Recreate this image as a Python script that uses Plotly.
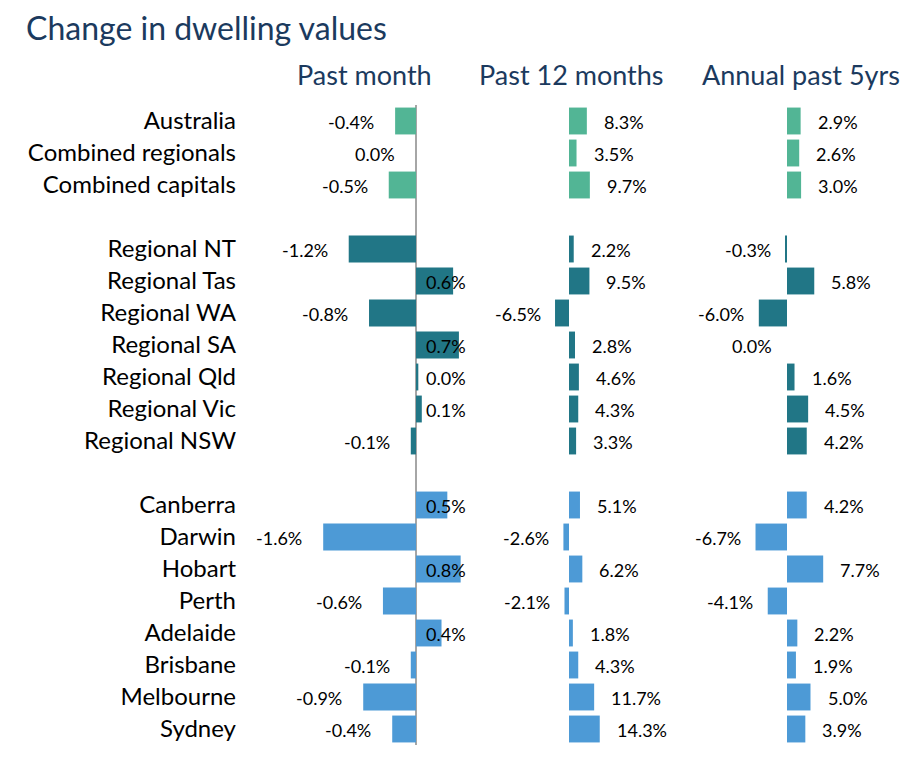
import plotly.graph_objects as go

W, H = 920, 766

rows = ["Australia", "Combined regionals", "Combined capitals", " ",
        "Regional NT", "Regional Tas", "Regional WA", "Regional SA", "Regional Qld",
        "Regional Vic", "Regional NSW", "  ",
        "Canberra", "Darwin", "Hobart", "Perth", "Adelaide", "Brisbane",
        "Melbourne", "Sydney"]
groups = ["agg", "agg", "agg", None,
          "reg", "reg", "reg", "reg", "reg", "reg", "reg", None,
          "cap", "cap", "cap", "cap", "cap", "cap", "cap", "cap"]

past_month = [-0.36, 0.0, -0.47, None,
              -1.16, 0.64, -0.81, 0.74, 0.04, 0.10, -0.09, None,
              0.54, -1.60, 0.77, -0.57, 0.44, -0.09, -0.91, -0.41]
past_12m = [8.3, 3.5, 9.7, None,
            2.2, 9.5, -6.5, 2.8, 4.6, 4.3, 3.3, None,
            5.1, -2.6, 6.2, -2.1, 1.8, 4.3, 11.7, 14.3]
annual_5y = [2.9, 2.6, 3.0, None,
             -0.3, 5.8, -6.0, 0.0, 1.6, 4.5, 4.2, None,
             4.2, -6.7, 7.7, -4.1, 2.2, 1.9, 5.0, 3.9]

headers = ["Past month", "Past 12 months", "Annual past 5yrs"]
title = "Change in dwelling values"

colors = {"agg": "#52B595", "reg": "#217686", "cap": "#4D9AD6"}
FONT = "Lato, 'Open Sans', sans-serif"
NAVY = "#1B3A5E"

def px(x):
    return x / W

def py(y):
    return 1 - y / H

panels = [
    dict(dom=(245, 470), zero=416, scale=58.0, pos_shift=8, pos_from_zero=True, neg_shift=-19),
    dict(dom=(480, 680), zero=569, scale=2.15, pos_shift=15, pos_from_zero=False, neg_shift=-12),
    dict(dom=(690, 910), zero=787, scale=4.7, pos_shift=15, pos_from_zero=False, neg_shift=-13),
]
series = [past_month, past_12m, annual_5y]
header_x = [364, 571, 801]

fig = go.Figure()
annotations = []
bar_colors = [colors[g] if g else "rgba(0,0,0,0)" for g in groups]

for i, (p, vals) in enumerate(zip(panels, series)):
    xa = "x" if i == 0 else f"x{i+1}"
    fig.add_trace(go.Bar(
        x=vals, y=rows, orientation="h", xaxis=xa, yaxis="y",
        marker=dict(color=bar_colors, line=dict(width=0)),
        hoverinfo="skip", showlegend=False,
    ))
    for r, v in zip(rows, vals):
        if v is None:
            continue
        label = f"{v:.1f}%"
        if v > 0:
            ax = 0 if p["pos_from_zero"] else v
            annotations.append(dict(x=ax, y=r, xref=xa, yref="y", text=label,
                                    showarrow=False, xanchor="left", yanchor="middle",
                                    xshift=p["pos_shift"], yshift=-1,
                                    font=dict(family=FONT, size=18, color="#000000")))
        else:
            annotations.append(dict(x=v, y=r, xref=xa, yref="y", text=label,
                                    showarrow=False, xanchor="right", yanchor="middle",
                                    xshift=p["neg_shift"], yshift=-1,
                                    font=dict(family=FONT, size=18, color="#000000")))
    lo, hi = p["dom"]
    rng = [-(p["zero"] - lo) / p["scale"], (hi - p["zero"]) / p["scale"]]
    axdef = dict(domain=[px(lo), px(hi)], range=rng, showgrid=False,
                 showticklabels=False, ticks="", showline=False,
                 zeroline=(i == 0), zerolinecolor="#A6A6A6", zerolinewidth=2,
                 anchor="y", fixedrange=True)
    key = "xaxis" if i == 0 else f"xaxis{i+1}"
    fig.update_layout(**{key: axdef})
    annotations.append(dict(x=px(header_x[i]), y=py(74), xref="paper", yref="paper",
                            text=headers[i], showarrow=False, xanchor="center",
                            yanchor="middle",
                            font=dict(family=FONT, size=27, color=NAVY)))

annotations.append(dict(x=px(24), y=py(28), xref="paper", yref="paper", text=title,
                        showarrow=False, xanchor="left", yanchor="middle",
                        font=dict(family=FONT, size=32, color=NAVY)))

fig.update_layout(
    width=W, height=H,
    margin=dict(l=0, r=0, t=0, b=0),
    paper_bgcolor="white", plot_bgcolor="white",
    bargap=0.16,
    yaxis=dict(domain=[py(745), py(105)], type="category",
               categoryorder="array", categoryarray=rows,
               autorange="reversed", showgrid=False, zeroline=False,
               showline=False, ticks="", ticklabelstandoff=8,
               tickfont=dict(family=FONT, size=24, color="#000000"),
               anchor="x", fixedrange=True),
    annotations=annotations,
    font=dict(family=FONT),
)

fig.write_html("out.html")
